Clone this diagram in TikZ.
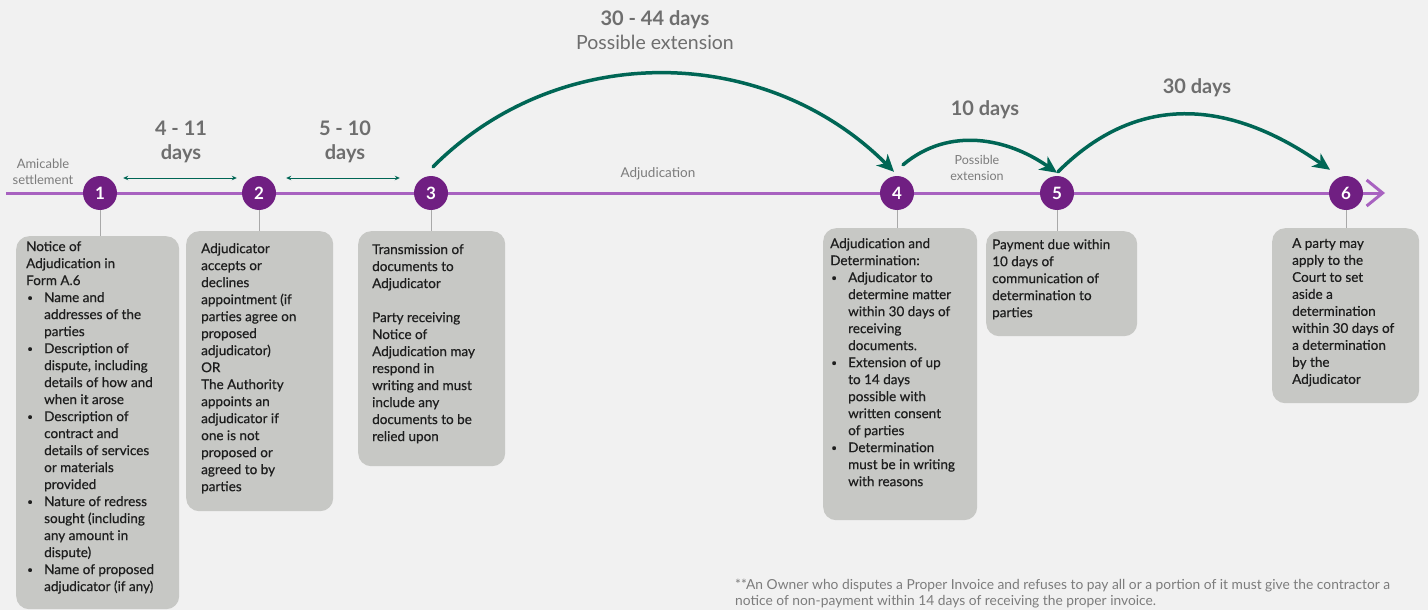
\documentclass[tikz,border=0pt]{standalone}
\usepackage{fontspec}
\setmainfont{Lato}
\newfontfamily\cardfont{Lato}[FakeBold=0.5]
\usetikzlibrary{arrows.meta}
\definecolor{pathpurple}{HTML}{A862C0}
\definecolor{dotpurple}{HTML}{701F82}
\definecolor{arcteal}{HTML}{006655}
\definecolor{boxgray}{HTML}{C7C8C5}
\definecolor{labelgray}{HTML}{6E6E6E}
\definecolor{notegray}{HTML}{7C7C7C}
\definecolor{stemgray}{HTML}{A9A9A9}
\definecolor{cardink}{HTML}{1E1E1E}
\definecolor{paper}{HTML}{F1F1F1}
\newcommand{\bul}{\makebox[18pt][l]{\hspace*{1pt}\raisebox{1pt}{\fontsize{10}{10}\selectfont\textbullet}}}
\newcommand{\bpad}{\hspace*{18pt}}
\tikzset{
  stepdot/.style={circle, fill=dotpurple, text=white, minimum size=34pt, inner sep=0pt,
    font=\fontsize{17}{17}\selectfont\bfseries},
  card/.style={fill=boxgray, rounded corners=13pt, anchor=north west, inner sep=0pt},
  cardtext/.style={anchor=north west, inner sep=0pt, align=left, text=cardink,
    font=\cardfont\fontsize{13.5}{17}\selectfont},
  stem/.style={stemgray, line width=1pt},
  timeline/.style={pathpurple, line width=3pt, -{Straight Barb[length=16pt,width=26pt,line width=3pt]}},
  leap/.style={arcteal, line width=3.5pt, line cap=round, -{Stealth[length=17pt,width=16pt,inset=5pt]}},
  gapspan/.style={arcteal, line width=1pt, {Stealth[length=5pt,width=4.5pt]}-{Stealth[length=5pt,width=4.5pt]}},
  daylabel/.style={text=labelgray, font=\fontsize{20}{24}\selectfont\bfseries, align=center},
  smallnote/.style={text=notegray, font=\fontsize{13}{15.5}\selectfont, align=center}
}
\begin{document}
\begin{tikzpicture}[x=1pt, y=1pt, line join=round]
	\fill[paper] (0,0) rectangle (1428,-610);
	\useasboundingbox (0,0) rectangle (1428,-610);
	% timeline
	\coordinate (tl start) at (6,-193);
	\coordinate (tl end) at (1385,-193);
	\draw[timeline] (tl start) -- (tl end);
	\node[stepdot] (c1) at (100,-193) {1};
	\node[stepdot] (c2) at (259,-193) {2};
	\node[stepdot] (c3) at (431,-193) {3};
	\node[stepdot] (c4) at (897,-193) {4};
	\node[stepdot] (c5) at (1057,-193) {5};
	\node[stepdot] (c6) at (1346,-193) {6};
	% boxes
	\node[card, minimum width=163pt, minimum height=373pt] (b1) at (16,-236) {};
	\node[card, minimum width=147pt, minimum height=280pt] (b2) at (186,-231) {};
	\node[card, minimum width=147pt, minimum height=235pt] (b3) at (358,-231) {};
	\node[card, minimum width=154pt, minimum height=292pt] (b4) at (823,-228) {};
	\node[card, minimum width=151pt, minimum height=105pt] (b5) at (986,-231) {};
	\node[card, minimum width=147pt, minimum height=175pt] (b6) at (1272,-228) {};
	\foreach \i in {1,...,6}
		\draw[stem] (c\i.south) -- (c\i.south |- b\i.north);
	\node[cardtext] (t1) at ([shift={(10,-5)}]b1.north west) {Notice of\\Adjudication in\\Form A.6\\
		\bul Name and\\\bpad addresses of the\\\bpad parties\\
		\bul Description of\\\bpad dispute, including\\\bpad details of how and\\\bpad when it arose\\
		\bul Description of\\\bpad contract and\\\bpad details of services\\\bpad or materials\\\bpad provided\\
		\bul Nature of redress\\\bpad sought (including\\\bpad any amount in\\\bpad dispute)\\
		\bul Name of proposed\\\bpad adjudicator (if any)};
	\node[cardtext] (t2) at ([shift={(15,-12)}]b2.north west) {Adjudicator\\accepts or\\declines\\appointment (if\\parties agree on\\proposed\\adjudicator)\\OR\\The Authority\\appoints an\\adjudicator if\\one is not\\proposed or\\agreed to by\\parties};
	\node[cardtext] (t3) at ([shift={(14,-13)}]b3.north west) {Transmission of\\documents to\\Adjudicator\\[17pt]Party receiving\\Notice of\\Adjudication may\\respond in\\writing and must\\include any\\documents to be\\relied upon};
	\node[cardtext] (t4) at ([shift={(7,-10)}]b4.north west) {Adjudication and\\Determination:\\
		\bul Adjudicator to\\\bpad determine matter\\\bpad within 30 days of\\\bpad receiving\\\bpad documents.\\
		\bul Extension of up\\\bpad to 14 days\\\bpad possible with\\\bpad written consent\\\bpad of parties\\
		\bul Determination\\\bpad must be in writing\\\bpad with reasons};
	\node[cardtext] (t5) at ([shift={(6,-8)}]b5.north west) {Payment due within\\10 days of\\communication of\\determination to\\parties};
	\node[cardtext] (t6) at ([shift={(20,-10)}]b6.north west) {A party may\\apply to the\\Court to set\\aside a\\determination\\within 30 days of\\a determination\\by the\\Adjudicator};
	% durations
	\draw[gapspan] ([shift={(6,15)}]c1.east) -- ([shift={(-5,15)}]c2.west);
	\draw[gapspan] ([shift={(10,15)}]c2.east) -- ([shift={(-14,15)}]c3.west);
	\draw[leap] ([shift={(2,9)}]c3.north) to[out=45,in=135] ([shift={(-3,4)}]c4.north);
	\draw[leap] ([shift={(6,11)}]c4.north) to[out=40,in=145] ([shift={(0,3)}]c5.north);
	\draw[leap] ([shift={(1,4)}]c5.north) to[out=45,in=145,looseness=1.1] ([shift={(-16,6)}]c6.north);
	\node[smallnote] (amicable) at (43,-172) {Amicable\\settlement};
	\node[daylabel] (d12) at (181,-142) {4 - 11\\days};
	\node[daylabel] (d23) at (345,-142) {5 - 10\\days};
	\node[daylabel] (d34) at (655,-30) {30 - 44 days\\{\mdseries\fontsize{19.5}{24}\selectfont Possible extension}};
	\node[smallnote, font=\fontsize{13.5}{15}\selectfont] (adj) at (658,-174) {Adjudication};
	\node[daylabel] (d45) at (985,-110) {10 days};
	\node[smallnote, font=\fontsize{12.5}{15.5}\selectfont] (ext) at (977,-168) {Possible\\extension};
	\node[daylabel] (d56) at (1197,-88) {30 days};
	\node[anchor=west, align=left, inner sep=0pt, text=notegray, font=\fontsize{13.8}{16}\selectfont] (note) at (735,-594)
		{**An Owner who disputes a Proper Invoice and refuses to pay all or a portion of it must give the contractor a\\notice of non-payment within 14 days of receiving the proper invoice.};
\end{tikzpicture}
\end{document}
